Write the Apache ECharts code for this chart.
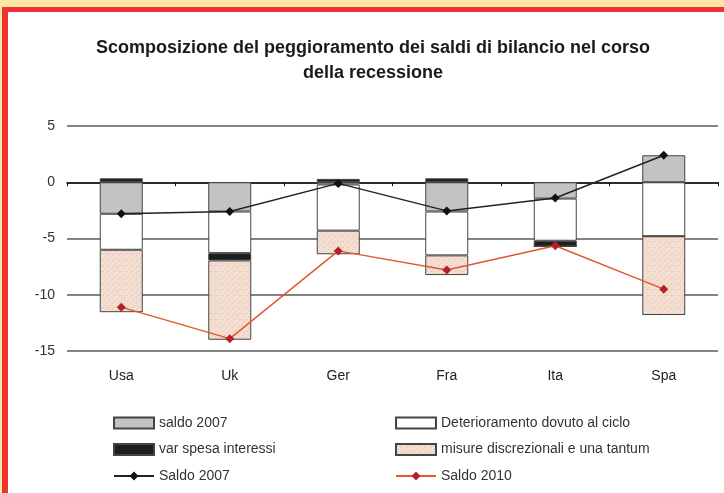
<!DOCTYPE html>
<html>
<head>
<meta charset="utf-8">
<script src="https://cdn.jsdelivr.net/npm/echarts@6/dist/echarts.min.js"></script>
<style>
html,body{margin:0;padding:0;background:#FCE6A4;width:724px;height:493px;overflow:hidden;}
#frame{position:absolute;left:2px;top:7px;width:740px;height:500px;background:#fff;border-left:6px solid #EE3232;border-top:5px solid #EE3232;}
#chart{position:absolute;left:0;top:0;width:724px;height:493px;}
</style>
</head>
<body>
<div id="frame"></div>
<div id="chart"></div>
<script>
var categories = ['Usa', 'Uk', 'Ger', 'Fra', 'Ita', 'Spa'];
var saldo2007Bar = [-2.8, -2.6, -0.2, -2.6, -1.45, 2.4];
var cicloBar = [-3.2, -3.7, -4.1, -3.9, -3.75, -4.8];
var interessiBar = [0.35, -0.65, 0.3, 0.35, -0.5, 0];
var misureBar = [-5.55, -7.05, -2.1, -1.75, 0, -7.0];
var saldo2007Line = [-2.8, -2.6, -0.1, -2.55, -1.4, 2.4];
var saldo2010Line = [-11.1, -13.9, -6.1, -7.8, -5.65, -9.5];
var yTicks = [-15, -10, -5, 0, 5];

// speckled pattern for the discretionary measures
var pat = document.createElement('canvas');
pat.width = 6; pat.height = 6;
var pc = pat.getContext('2d');
pc.fillStyle = '#F5DDCF'; pc.fillRect(0, 0, 6, 6);
pc.fillStyle = '#C6C9D2'; pc.fillRect(1, 1, 1, 1); pc.fillRect(4, 3, 1, 1);
pc.fillStyle = '#EDE6DC'; pc.fillRect(3, 0, 1, 1); pc.fillRect(0, 4, 1, 1);
pc.fillStyle = '#E9C3B0'; pc.fillRect(2, 5, 1, 1); pc.fillRect(5, 1, 1, 1);

var chart = echarts.init(document.getElementById('chart'), null, {renderer: 'canvas'});
var font = 'Liberation Sans, Arial, sans-serif';
var barBase = {type: 'bar', stack: 'tot', barWidth: 43, xAxisIndex: 0, yAxisIndex: 0};
var border = {borderColor: '#444', borderWidth: 1};
var legendText = {fontSize: 14, lineHeight: 16, color: '#333', fontFamily: font};
chart.setOption({
  backgroundColor: 'transparent',
  animation: false,
  textStyle: {fontFamily: font},
  graphic: [
    {type: 'text', x: 373, y: 48, style: {text: 'Scomposizione del peggioramento dei saldi di bilancio nel corso', textAlign: 'center', textVerticalAlign: 'middle', font: 'bold 18px Liberation Sans, Arial, sans-serif', fill: '#1a1a1a'}},
    {type: 'text', x: 373, y: 73, style: {text: 'della recessione', textAlign: 'center', textVerticalAlign: 'middle', font: 'bold 18px Liberation Sans, Arial, sans-serif', fill: '#1a1a1a'}}
  ],
  grid: {left: 67, right: 6, top: 126, bottom: 142, containLabel: false},
  xAxis: [
    {type: 'category', data: categories, boundaryGap: true,
     axisLine: {onZero: true, lineStyle: {color: '#111', width: 1.5}},
     axisTick: {show: true, length: 4, alignWithLabel: false, lineStyle: {color: '#111'}},
     axisLabel: {show: false}, splitLine: {show: false}},
    {type: 'category', data: categories, position: 'bottom', boundaryGap: true,
     axisLine: {show: false, onZero: false}, axisTick: {show: false},
     axisLabel: {show: true, margin: 18, fontSize: 14, color: '#222', fontFamily: font}}
  ],
  yAxis: {type: 'value', min: -15, max: 5, interval: 5,
    axisLine: {show: false}, axisTick: {show: false},
    axisLabel: {margin: 12, fontSize: 14, color: '#333', fontFamily: font,
      formatter: function (v) { return yTicks.indexOf(v) >= 0 ? String(v) : ''; }},
    splitLine: {lineStyle: {color: '#5a5a5a', width: 1.5}}},
  legend: [
    {orient: 'vertical', left: 113, top: 415, padding: 0, height: 80, itemWidth: 40, itemHeight: 11, itemGap: 10.5,
     textStyle: legendText,
     data: [{name: 'saldo 2007', icon: 'rect'}, {name: 'var spesa interessi', icon: 'rect'}, 'Saldo 2007']},
    {orient: 'vertical', left: 395, top: 415, padding: 0, height: 80, itemWidth: 40, itemHeight: 11, itemGap: 10.5,
     textStyle: legendText,
     data: [{name: 'Deterioramento dovuto al ciclo', icon: 'rect'}, {name: 'misure discrezionali e una tantum', icon: 'rect'}, 'Saldo 2010']}
  ],
  series: [
    Object.assign({}, barBase, {name: 'saldo 2007', data: saldo2007Bar, itemStyle: Object.assign({color: '#C3C3C3'}, border)}),
    Object.assign({}, barBase, {name: 'Deterioramento dovuto al ciclo', data: cicloBar, itemStyle: Object.assign({color: '#FFFFFF'}, border)}),
    Object.assign({}, barBase, {name: 'var spesa interessi', data: interessiBar, itemStyle: Object.assign({color: '#1E1E1E'}, border)}),
    Object.assign({}, barBase, {name: 'misure discrezionali e una tantum', data: misureBar, itemStyle: Object.assign({color: {image: pat, repeat: 'repeat'}}, border)}),
    {type: 'line', name: 'Saldo 2007', data: saldo2007Line, symbol: 'diamond', symbolSize: 9,
     lineStyle: {color: '#222', width: 1.4}, itemStyle: {color: '#111'}, z: 5},
    {type: 'line', name: 'Saldo 2010', data: saldo2010Line, symbol: 'diamond', symbolSize: 9,
     lineStyle: {color: '#E2582E', width: 1.5}, itemStyle: {color: '#B42028'}, z: 5}
  ]
});
</script>
</body>
</html>
